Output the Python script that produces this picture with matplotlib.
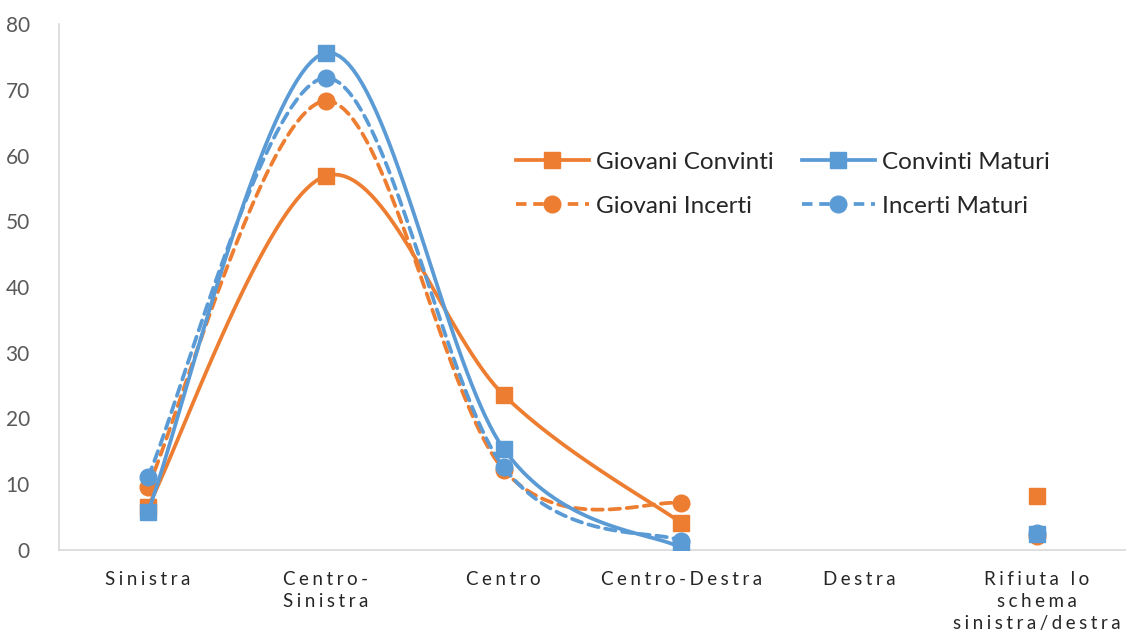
import numpy as np
import matplotlib
matplotlib.use("Agg")
import matplotlib.pyplot as plt
from matplotlib.lines import Line2D

categories = ["Sinistra", "Centro-\nSinistra", "Centro", "Centro-Destra", "Destra",
              "Rifiuta lo\nschema\nsinistra/destra"]
giovani_convinti = [6.6, 56.9, 23.6, 4.1, np.nan, 8.2]
giovani_incerti = [9.6, 68.3, 12.2, 7.1, np.nan, 2.1]
convinti_maturi = [5.8, 75.6, 15.4, 0.3, np.nan, 2.5]
incerti_maturi = [11.1, 71.8, 12.6, 1.4, np.nan, 2.6]

ORANGE = "#ED7D31"
BLUE = "#5B9BD5"

def smooth_segments(xs, ys, n=40):
    """Excel-like smoothed line (cubic Bezier, Catmull-Rom control points),
    broken at missing values."""
    segs = []
    run = []
    for x, y in zip(xs, ys):
        if np.isnan(y):
            if len(run) > 1:
                segs.append(run)
            run = []
        else:
            run.append((x, y))
    if len(run) > 1:
        segs.append(run)
    out = []
    for run in segs:
        P = np.array(run, dtype=float)
        m = len(P)
        X, Y = [], []
        for i in range(m - 1):
            p0 = P[max(i - 1, 0)]
            p1 = P[i]
            p2 = P[i + 1]
            p3 = P[min(i + 2, m - 1)]
            c1 = p1 + (p2 - p0) / 6.0
            c2 = p2 - (p3 - p1) / 6.0
            t = np.linspace(0, 1, n)[:, None]
            b = ((1 - t) ** 3) * p1 + 3 * ((1 - t) ** 2) * t * c1 + 3 * (1 - t) * t ** 2 * c2 + t ** 3 * p2
            X.extend(b[:, 0]); Y.extend(b[:, 1])
        out.append((np.array(X), np.array(Y)))
    return out

fig = plt.figure(figsize=(11.26, 6.33), dpi=100)
ax = fig.add_axes([59 / 1126, 83 / 633, 1 - 59 / 1126, (550 - 24) / 633])

xs = np.arange(len(categories))
DASH = (0, (2.8, 1.8))
series = [
    ("Giovani Convinti", giovani_convinti, ORANGE, "-", "s"),
    ("Giovani Incerti", giovani_incerti, ORANGE, DASH, "o"),
    ("Convinti Maturi", convinti_maturi, BLUE, "-", "s"),
    ("Incerti Maturi", incerti_maturi, BLUE, DASH, "o"),
]
LW = 2.7
handles = []
for z, (name, vals, col, ls, mk) in enumerate(series):
    v = np.array(vals, dtype=float)
    for sx, sy in smooth_segments(xs, v):
        ax.plot(sx, sy, color=col, lw=LW, ls=ls, zorder=2 + z, solid_capstyle="round",
                dash_capstyle="round")
    ax.plot(xs, v, ls="none", marker=mk, ms=12, color=col, zorder=2 + z)
    handles.append(Line2D([], [], color=col, lw=LW, ls=ls, marker=mk, ms=12, label=name))

ax.set_xlim(-0.5, len(categories) - 0.5)
ax.set_ylim(0, 80)
ax.set_yticks(range(0, 81, 10))
ax.set_xticks(xs)

def spaced(s):
    return "\n".join("\u2009\u200a".join(list(line)) for line in s.split("\n"))

ax.set_xticklabels([spaced(c) for c in categories], fontsize=13.5, color="#262626",
                   linespacing=1.35, family=["Lato", "DejaVu Sans"])
ax.tick_params(axis="x", length=0, pad=15)
ax.tick_params(axis="y", length=0, pad=21, labelsize=15, labelcolor="#595959")
for lab in ax.get_yticklabels():
    lab.set_family(["Lato", "DejaVu Sans"])

for s in ["top", "right"]:
    ax.spines[s].set_visible(False)
ax.spines["left"].set_color("#D9D9D9")
ax.spines["bottom"].set_color("#D9D9D9")
ax.spines["left"].set_linewidth(1.2)
ax.spines["bottom"].set_linewidth(1.2)

leg = ax.legend(handles=handles, ncol=2, loc="upper left",
                bbox_to_anchor=(494 / 1126, 1 - 130 / 633), bbox_transform=fig.transFigure,
                frameon=False, handlelength=3.0, columnspacing=1.15,
                labelspacing=0.95, handletextpad=0.3,
                prop={"family": ["Lato", "DejaVu Sans"], "size": 17.5})
for t in leg.get_texts():
    t.set_color("#262626")

fig.savefig("out.png", dpi=100)
